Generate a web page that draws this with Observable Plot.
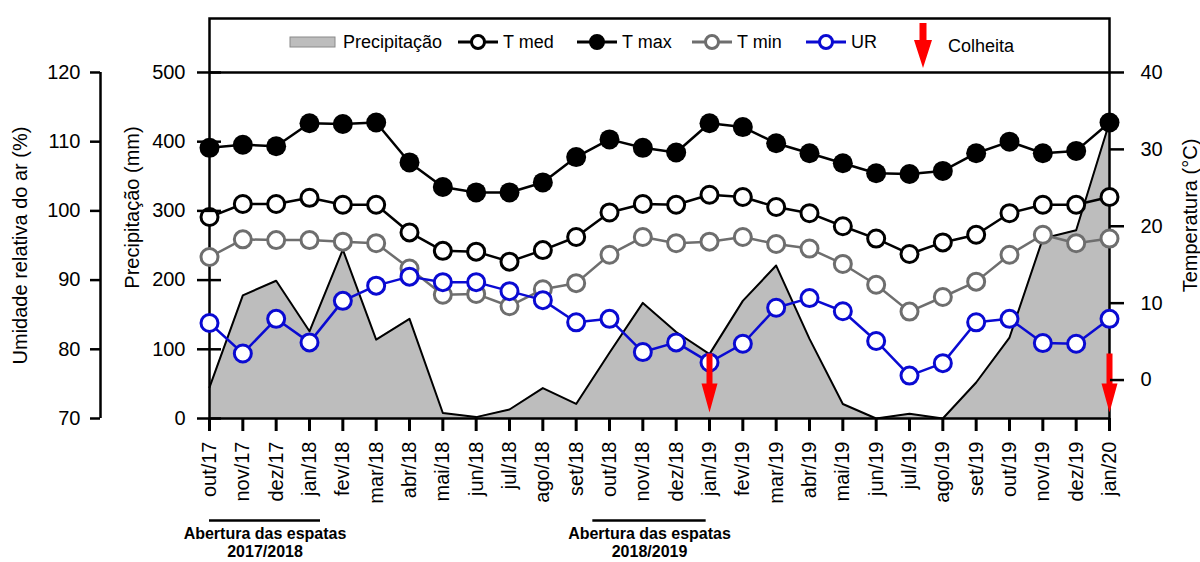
<!DOCTYPE html>
<html>
<head>
<meta charset="utf-8">
<script src="https://cdn.jsdelivr.net/npm/d3@7"></script>
<script src="https://cdn.jsdelivr.net/npm/@observablehq/plot@0.6"></script>
<style>
  html, body { margin: 0; padding: 0; background: #fff; }
  #chart { width: 1200px; height: 562px; position: relative; }
</style>
</head>
<body>
<div id="chart"></div>
<script>
// ---------- data ----------
const months = ["out/17","nov/17","dez/17","jan/18","fev/18","mar/18","abr/18","mai/18","jun/18","jul/18","ago/18","set/18","out/18","nov/18","dez/18","jan/19","fev/19","mar/19","abr/19","mai/19","jun/19","jul/19","ago/19","set/19","out/19","nov/19","dez/19","jan/20"];
const precip = [45,178,199,126,244,114,144,8,2,13,44,21,95,167,125,93,170,221,115,21,0,7,0,52,117,260,272,428];
const tmax = [30.2,30.6,30.4,33.4,33.3,33.5,28.3,25.1,24.4,24.4,25.7,29.0,31.3,30.2,29.6,33.4,32.9,30.8,29.5,28.2,26.9,26.8,27.2,29.5,31.0,29.5,29.8,33.5];
const tmed = [21.2,22.9,22.9,23.7,22.8,22.8,19.2,16.8,16.7,15.4,16.9,18.6,21.8,22.9,22.8,24.1,23.8,22.5,21.7,20.0,18.4,16.4,17.9,18.9,21.7,22.8,22.8,23.8];
const tmin = [16.0,18.3,18.2,18.2,18.0,17.8,14.5,11.1,11.2,9.6,11.8,12.6,16.3,18.6,17.8,18.0,18.6,17.7,17.1,15.1,12.4,8.9,10.8,12.8,16.3,18.9,17.8,18.4];
const ur = [83.8,79.4,84.4,81.0,87.0,89.2,90.5,89.7,89.7,88.4,87.1,83.9,84.4,79.6,81.0,78.1,80.8,86.0,87.4,85.5,81.2,76.2,78.0,83.9,84.4,80.9,80.8,84.4];
const harvest = ["jan/19","jan/20"];
const precipTicks = [0,100,200,300,400,500];
const urTicks = [70,80,90,100,110,120];
const tempTicks = [0,10,20,30,40];
const spatheSpans = [
  {label: "Abertura das espatas\n2017/2018", from: 0, to: 3.33},
  {label: "Abertura das espatas\n2018/2019", from: 11.5, to: 14.9}
];

// ---------- scale helpers (all series share the precipitation y scale) ----------
const urToMm = u => (u - 70) * 10;            // 70..120 % -> 0..500 mm
const mmToUr = m => m / 10 + 70;
const tToMm = t => (t + 5) * 500 / 45;        // -5..40 °C -> 0..500 mm
const mmToT = m => m * 45 / 500 - 5;

const rows = months.map((m, i) => ({
  i, month: m, precip: precip[i],
  tmax: tToMm(tmax[i]), tmed: tToMm(tmed[i]), tmin: tToMm(tmin[i]), ur: urToMm(ur[i])
}));

const FONT = "'Liberation Sans', Arial, Helvetica, sans-serif";
const GRAY_FILL = "#bdbdbd";
const TMIN_COLOR = "#6e6e6e";
const UR_COLOR = "#0a0ad2";
const RED = "#ff0000";

const arrowShape = {
  draw(ctx, l) {
    const w = 3, hw = 8, hl = 29;
    ctx.moveTo(-w, 0);
    ctx.lineTo(-w, -(l - hl));
    ctx.lineTo(-hw, -(l - hl));
    ctx.lineTo(0, -l);
    ctx.lineTo(hw, -(l - hl));
    ctx.lineTo(w, -(l - hl));
    ctx.lineTo(w, 0);
    ctx.closePath();
  }
};

const chart = Plot.plot({
  width: 1200,
  height: 562,
  marginLeft: 209,
  marginRight: 91,
  marginTop: 18,
  marginBottom: 144,
  style: {fontFamily: FONT, fontSize: "20px", background: "#fff", overflow: "visible", color: "#000"},
  x: {type: "linear", domain: [0, months.length - 1]},
  y: {type: "linear", domain: [0, 578]},
  marks: [
    // precipitation area
    Plot.areaY(rows, {x: "i", y: "precip", fill: GRAY_FILL}),
    Plot.lineY(rows, {x: "i", y: "precip", stroke: "#000", strokeWidth: 2}),
    // frame and divider at 500 mm
    Plot.frame({stroke: "#000", strokeWidth: 2.5}),
    Plot.ruleY([500], {stroke: "#000", strokeWidth: 2.5}),
    // T max
    Plot.line(rows, {x: "i", y: "tmax", stroke: "#000", strokeWidth: 2.5}),
    Plot.dot(rows, {x: "i", y: "tmax", r: 10, fill: "#000", stroke: "none"}),
    // T med
    Plot.line(rows, {x: "i", y: "tmed", stroke: "#000", strokeWidth: 2.5}),
    Plot.dot(rows, {x: "i", y: "tmed", r: 8.5, fill: "#fff", stroke: "#000", strokeWidth: 3}),
    // T min
    Plot.line(rows, {x: "i", y: "tmin", stroke: TMIN_COLOR, strokeWidth: 2.5}),
    Plot.dot(rows, {x: "i", y: "tmin", r: 8.5, fill: "#fff", stroke: TMIN_COLOR, strokeWidth: 3}),
    // UR
    Plot.line(rows, {x: "i", y: "ur", stroke: UR_COLOR, strokeWidth: 2.5}),
    Plot.dot(rows, {x: "i", y: "ur", r: 8.5, fill: "#fff", stroke: UR_COLOR, strokeWidth: 3}),
    // harvest arrows
    Plot.vector(harvest, {x: d => months.indexOf(d), y: () => 94, length: 59, rotate: 180, anchor: "start",
      shape: arrowShape, fill: RED, stroke: "none"}),
    // x axis
    Plot.axisX({ticks: d3.range(months.length), tickFormat: i => months[i], tickRotate: -90,
      tickSize: 13, tickPadding: 10, strokeWidth: 3, fontSize: 20, label: null}),
    // precipitation axis (crossing ticks + labels)
    Plot.axisY({ticks: precipTicks, tickSize: 24, dx: 12, tickFormat: () => "", strokeWidth: 2.5, label: null}),
    Plot.axisY({ticks: precipTicks, tickSize: 0, tickPadding: 24, fontSize: 20, label: null}),
    // relative humidity axis (offset)
    Plot.ruleX([0], {y1: 0, y2: 500, dx: -109, stroke: "#000", strokeWidth: 2.5}),
    Plot.axisY({ticks: urTicks.map(urToMm), tickFormat: m => Math.round(mmToUr(m)), tickSize: 10, tickPadding: 10,
      dx: -109, strokeWidth: 2.5, fontSize: 20, label: null}),
    // temperature axis (right)
    Plot.axisY({anchor: "right", ticks: tempTicks.map(tToMm), tickFormat: m => Math.round(mmToT(m)),
      tickSize: 14, tickPadding: 17, strokeWidth: 2.5, fontSize: 20, label: null}),
    // axis titles
    Plot.text(["Umidade relativa do ar (%)"], {frameAnchor: "left", textAnchor: "middle", dx: -189, dy: 27, rotate: -90, fontSize: 20}),
    Plot.text(["Precipitação (mm)"], {frameAnchor: "left", textAnchor: "middle", dx: -77, dy: -11, rotate: -90, fontSize: 20}),
    Plot.text(["Temperatura (°C)"], {frameAnchor: "right", textAnchor: "middle", dx: 81, dy: -3, rotate: -90, fontSize: 20}),
    // spathe opening annotations
    Plot.ruleY(spatheSpans, {x1: "from", x2: "to", y: () => 0, dy: 102, stroke: "#000", strokeWidth: 2.5}),
    Plot.text(spatheSpans, {x: d => (d.from + d.to) / 2, y: () => 0, dy: 124, text: "label",
      fontWeight: "bold", fontSize: 16, lineHeight: 1.08})
  ]
});

document.getElementById("chart").appendChild(chart);

// ---------- legend inside the top box ----------
const svg = d3.select(chart);
const lg = svg.append("g").attr("font-family", FONT).attr("font-size", 18).attr("text-anchor", "start");
const LY = 42;
lg.append("rect").attr("x", 290).attr("y", LY - 5).attr("width", 45).attr("height", 10)
  .attr("fill", GRAY_FILL).attr("stroke", "#8a8a8a").attr("stroke-width", 1);
lg.append("text").attr("x", 343).attr("y", LY).attr("dy", "0.35em").text("Precipitação");
const items = [
  {cx: 478, label: "T med", stroke: "#000", fill: "#fff"},
  {cx: 597, label: "T max", stroke: "#000", fill: "#000"},
  {cx: 712, label: "T min", stroke: TMIN_COLOR, fill: "#fff"},
  {cx: 826, label: "UR", stroke: UR_COLOR, fill: "#fff"}
];
for (const it of items) {
  lg.append("line").attr("x1", it.cx - 20).attr("x2", it.cx + 20).attr("y1", LY).attr("y2", LY)
    .attr("stroke", it.stroke).attr("stroke-width", 3);
  lg.append("circle").attr("cx", it.cx).attr("cy", LY).attr("r", 6.5)
    .attr("fill", it.fill).attr("stroke", it.stroke).attr("stroke-width", 3);
  lg.append("text").attr("x", it.cx + 25).attr("y", LY).attr("dy", "0.35em").text(it.label);
}
// legend arrow
const ax = 923, ay0 = 23, ay1 = 68, ahl = 28, aw = 3.5, ahw = 9;
lg.append("path")
  .attr("d", `M${ax - aw},${ay0}L${ax - aw},${ay1 - ahl}L${ax - ahw},${ay1 - ahl}L${ax},${ay1}L${ax + ahw},${ay1 - ahl}L${ax + aw},${ay1 - ahl}L${ax + aw},${ay0}Z`)
  .attr("fill", RED);
lg.append("text").attr("x", 948).attr("y", 46).attr("dy", "0.35em").text("Colheita");
</script>
</body>
</html>
